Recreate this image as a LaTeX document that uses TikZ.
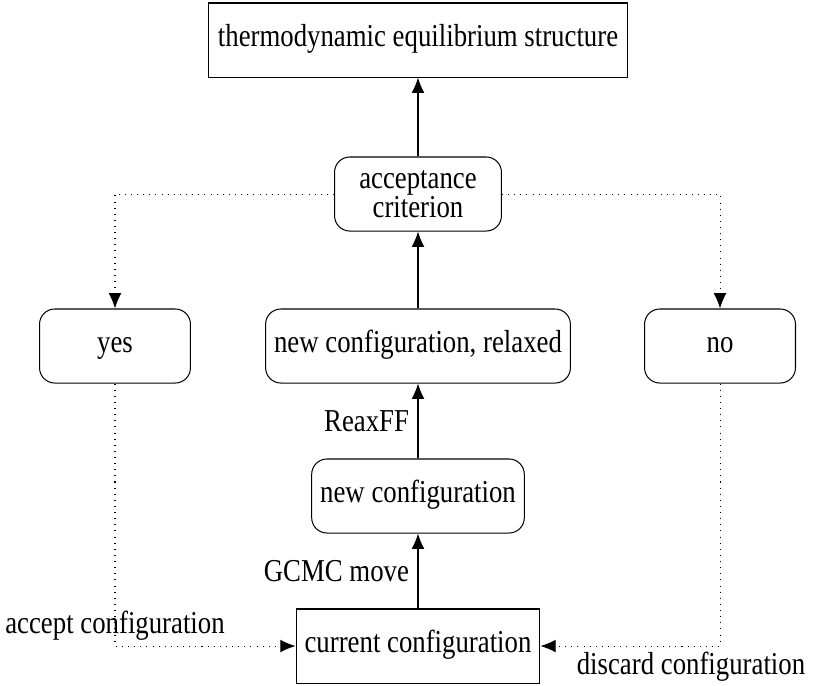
\documentclass[tikz,border=0pt]{standalone}
\usepackage{fontspec}
\setmainfont{Liberation Serif}[FakeStretch=0.84]
\usetikzlibrary{arrows.meta}

\begin{document}
\begin{tikzpicture}[x=0.01378cm,y=-0.01378cm,
	font=\fontsize{12.5}{11.4}\selectfont]

\tikzset{box/.style={draw, minimum height=1.02cm, align=center},
	rbox/.style={box, rounded corners=6pt},
	oneline/.style={text height=1.6ex, text depth=0.45ex},
	flow/.style={-{Latex[length=6pt,width=5pt]}},
	back/.style={flow, dotted}}

\useasboundingbox (0,0) rectangle (837,685);

\node[box, oneline, minimum width=5.76cm] (equil) at (418,40) {thermodynamic equilibrium structure};
\node[rbox, minimum width=2.3cm] (crit) at (418,194) {acceptance\\criterion};
\node[rbox, oneline, minimum width=2.08cm] (yes) at (115,346) {yes};
\node[rbox, oneline, minimum width=4.15cm] (relaxed) at (418,346) {new configuration, relaxed};
\node[rbox, oneline, minimum width=2.08cm] (no) at (720,346) {no};
\node[rbox, oneline, minimum width=2.91cm] (newconf) at (418,496) {new configuration};
\node[box, oneline, minimum width=3.33cm] (current) at (418,646) {current configuration};

% labels of the dotted paths
\node (accept) at (115,626) {accept configuration};
\node (discard) at (691,667) {discard configuration};

\draw[flow] (current) -- node[left] (gcmc) {GCMC move} (newconf);
\draw[flow] (newconf) -- node[left] (reaxff) {ReaxFF} (relaxed);
\draw[flow] (relaxed) -- (crit);
\draw[flow] (crit) -- (equil);

\draw[back] (crit.west) -| (yes.north);
\draw[back] (crit.east) -| (no.north);
\draw[back] (yes.south) |- (current.west);
\draw[back] (no.south) |- (current.east);
\end{tikzpicture}
\end{document}
